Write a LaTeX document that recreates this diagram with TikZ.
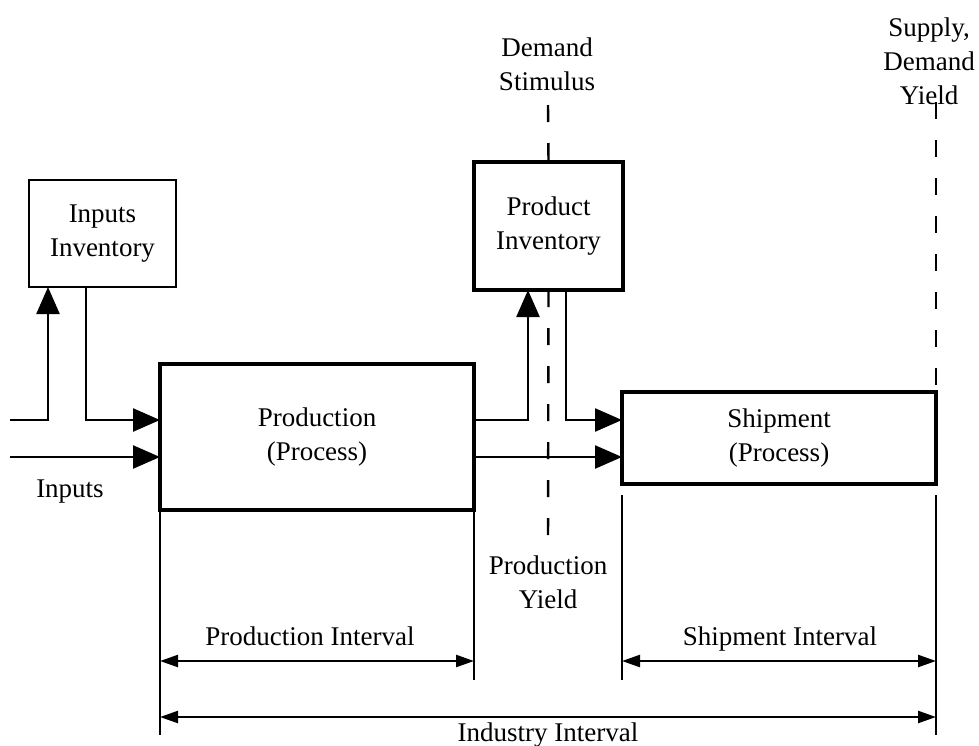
\documentclass[tikz,border=0pt]{standalone}
\usepackage{fontspec}
\setmainfont{Liberation Serif}
\usetikzlibrary{arrows.meta,calc}
\begin{document}
\begin{tikzpicture}[x=1pt,y=-1pt,
  txt/.style={font=\fontsize{27}{34}\selectfont, align=center, inner sep=0pt},
  thinbox/.style={draw, line width=2.6pt, outer sep=0pt, txt},
  thickbox/.style={draw, line width=4.5pt, outer sep=0pt, txt},
  arr/.style={line width=2.4pt, -{Triangle[length=27pt,width=23pt]}},
  dimarr/.style={line width=2.4pt, {Triangle[length=18pt,width=12pt]}-{Triangle[length=18pt,width=12pt]}},
  plain/.style={line width=2.4pt},
  dashline/.style={line width=2.4pt, dash pattern=on 17pt off 21pt}
]
\useasboundingbox (0,0) rectangle (979,745);
% boxes
\node[thinbox, minimum width=147pt, minimum height=107pt] (inv) at (102.5,233.5) {Inputs\\Inventory};
\node[thickbox, minimum width=314pt, minimum height=146pt] (prod) at (317,437) {\raisebox{-3pt}{\begin{tabular}{@{}c@{}}Production\\(Process)\end{tabular}}};
\node[thickbox, minimum width=149pt, minimum height=128pt] (pinv) at (548.5,226) {Product\\Inventory};
\node[thickbox, minimum width=314pt, minimum height=92pt] (ship) at (779,438) {\raisebox{-2pt}{\begin{tabular}{@{}c@{}}Shipment\\(Process)\end{tabular}}};
% labels
\node[txt] (inl) at (70,492) {Inputs};
\node[txt] (dsl) at (547,64) {Demand\\Stimulus};
\node[txt] (pyl) at (548,582) {Production\\Yield};
\node[txt] (sdl) at (929,61) {Supply,\\Demand\\Yield};
\node[txt, anchor=base] (pil) at (310,645) {Production Interval};
\node[txt, anchor=base] (sil) at (780,645) {Shipment Interval};
\node[txt, anchor=base] (iil) at (548,741) {Industry Interval};
% coordinates
\coordinate (in1) at (10,420);
\coordinate (in2) at (10,457);
\coordinate (ds) at (548,105);
\coordinate (py) at (548,548);
\coordinate (sd) at (936,102);
\coordinate (pbL) at (160,735);
\coordinate (pbR) at (474,680);
\coordinate (sbLt) at (622,495);
\coordinate (sbL) at (622,680);
\coordinate (sbRt) at (936,495);
\coordinate (sbR) at (936,735);
\coordinate (d1a) at (160,661);
\coordinate (d1b) at (474,661);
\coordinate (d2a) at (622,661);
\coordinate (d2b) at (936,661);
\coordinate (d3a) at (160,717);
\coordinate (d3b) at (936,717);
% input connectors
\draw[arr] (in1) -| ([xshift=19pt]inv.south west);
\draw[arr] ([xshift=57pt]inv.south west) |- (prod.west |- in1);
\draw[arr] (in2) -- (prod.west |- in2);
% production outputs
\draw[arr] (prod.east |- in1) -| ([xshift=54pt]pinv.south west);
\draw[arr] ([xshift=92pt]pinv.south west) |- (ship.west |- in1);
\draw[arr] (prod.east |- in2) -- (ship.west |- in2);
% dashed lines
\draw[dashline] (ds) -- (pinv.north);
\draw[dashline] (pinv.south) -- (py);
\draw[dashline] (sd) -- (ship.north east);
% extension lines
\draw[plain] (prod.south west) -- (pbL);
\draw[plain] (prod.south east) -- (pbR);
\draw[plain] (sbLt) -- (sbL);
\draw[plain] (sbRt) -- (sbR);
% dimension arrows
\draw[dimarr] (d1a) -- (d1b);
\draw[dimarr] (d2a) -- (d2b);
\draw[dimarr] (d3a) -- (d3b);
\end{tikzpicture}
\end{document}
